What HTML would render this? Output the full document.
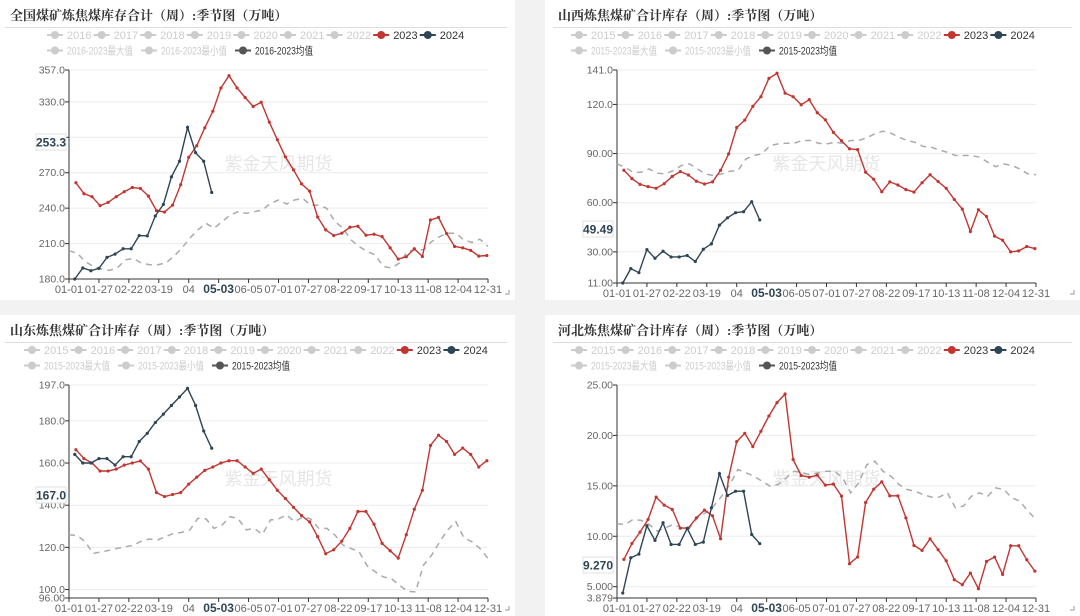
<!DOCTYPE html>
<html><head><meta charset="utf-8">
<style>
html,body{margin:0;padding:0;background:#f2f2f2;}
body{width:1080px;height:616px;position:relative;overflow:hidden;font-family:"Liberation Sans","Noto Sans CJK SC",sans-serif;}
svg{position:absolute;left:0;top:0;}
</style></head>
<body>
<svg id="chart" width="1080" height="616" viewBox="0 0 1080 616"></svg>
<script>
// ---------- data ----------
const xTickLabels=["01-01","01-27","02-22","03-19","04","05-03","06-05","07-01","07-27","08-22","09-17","10-13","11-08","12-04","12-31"];
const p1Title="全国煤矿炼焦煤库存合计（周）:季节图（万吨）";
const p2Title="山西炼焦煤矿合计库存（周）:季节图（万吨）";
const p3Title="山东炼焦煤矿合计库存（周）:季节图（万吨）";
const p4Title="河北炼焦煤矿合计库存（周）:季节图（万吨）";
const p1Years=["2016","2017","2018","2019","2020","2021","2022"];
const p2Years=["2015","2016","2017","2018","2019","2020","2021","2022"];
const p1Range="2016-2023";
const p2Range="2015-2023";
const p1Ticks=[357,330,300,270,240,210,180];
const p1TickLabels=["357.0","330.0","300.0","270.0","240.0","210.0","180.0"];
const p2Ticks=[141,120,90,60,30,11];
const p2TickLabels=["141.0","120.0","90.00","60.00","30.00","11.00"];
const p3Ticks=[197,180,160,140,120,100,96];
const p3TickLabels=["197.0","180.0","160.0","140.0","120.0","100.0","96.00"];
const p4Ticks=[25,20,15,10,5,3.879];
const p4TickLabels=["25.00","20.00","15.00","10.00","5.000","3.879"];
const p1Last="253.3", p2Last="49.49", p3Last="167.0", p4Last="9.270";

const p1S2023=[261.5,252.2,249.7,242.1,244.9,249.7,253.9,257.5,256.7,250.2,237.9,236.7,242.6,259.8,283.1,292.9,308.1,322.1,341.8,352.2,341.8,333.7,326.1,329.7,312.9,298.0,283.4,272.4,260.6,254.4,232.5,221.6,216.8,218.8,223.8,224.7,217.1,217.9,215.9,206.4,196.9,198.8,205.6,199.1,230.0,232.2,218.5,207.5,206.4,204.2,199.4,199.9];
const p1S2024=[180.0,189.3,187.0,189.0,198.3,201.1,205.6,205.6,216.8,216.5,233.4,243.2,266.5,279.7,308.4,287.0,279.7,253.3];
const p1Avg=[203.9,201.9,194.9,190.7,188.4,187.3,189.3,196.3,197.4,193.5,192.1,192.1,193.5,199.1,206.1,214.6,221.6,227.2,223.0,228.6,234.2,237.0,235.6,237.0,238.4,244.0,246.9,243.5,246.9,248.3,242.6,242.6,239.8,228.6,223.0,213.1,207.5,203.3,200.5,190.7,189.3,193.5,203.3,204.7,204.7,211.7,215.9,218.8,218.8,213.1,210.9,213.7,207.5];

const p2S2023=[79.8,74.7,71.2,69.8,68.8,71.6,76.1,79.0,76.9,73.1,71.4,72.7,79.8,89.8,105.9,110.4,118.8,124.7,135.9,139.0,126.9,124.7,119.8,122.9,114.9,110.6,102.9,97.8,92.9,92.4,78.6,74.3,66.7,72.7,70.8,68.0,66.5,72.2,77.1,72.9,68.8,62.0,56.1,42.4,55.7,51.6,39.6,37.1,30.0,30.6,33.3,32.0];
const p2S2024=[11.0,19.8,17.3,31.4,26.1,30.4,26.9,26.9,27.8,24.1,31.6,34.9,46.3,50.8,53.9,54.5,60.6,49.49];
const p2Avg=[83.7,81.6,78.6,78.6,80.6,78.0,77.6,79.6,82.7,83.7,80.6,77.6,76.5,77.6,79.2,79.6,86.7,88.8,89.8,94.9,95.9,96.3,96.3,98.0,98.0,96.3,95.9,96.9,96.3,98.0,98.0,99.6,102.0,103.7,102.4,100.0,98.0,96.9,94.3,93.9,92.2,90.8,88.8,88.8,88.8,87.8,84.7,82.0,83.7,82.7,80.6,77.6,77.1];

const p3S2023=[166.3,162.1,160.0,156.2,156.2,157.1,159.0,160.0,161.0,157.1,146.0,144.1,145.1,146.0,150.0,153.3,156.5,158.1,160.0,161.1,161.1,158.1,155.1,157.1,152.1,147.1,143.2,139.0,135.1,132.1,125.1,117.0,118.9,123.0,129.0,137.0,137.0,131.0,121.9,118.4,114.9,126.0,138.1,147.1,168.3,173.2,170.2,164.1,167.1,164.1,158.1,161.1];
const p3S2024=[164.1,160.0,160.0,162.1,162.1,159.0,163.0,163.0,170.2,174.1,179.2,183.2,187.3,191.3,195.4,187.3,175.2,167.0];
const p3Avg=[125.9,125.7,122.7,117.1,117.9,118.6,119.5,120.3,121.1,123.0,124.0,123.5,125.1,126.7,127.1,128.3,133.8,133.5,129.0,130.6,134.6,133.5,128.3,129.0,126.2,133.0,133.5,135.4,132.2,134.4,133.5,129.0,129.0,125.9,121.1,119.5,117.9,111.3,108.4,106.0,105.2,102.1,99.2,98.9,111.6,116.3,122.7,128.3,132.2,124.6,122.7,119.5,114.8];

const p4S2023=[7.71,9.29,10.41,11.67,13.88,13.09,12.66,10.81,10.81,11.83,12.59,12.03,9.75,15.86,19.39,20.21,18.89,20.41,21.93,23.25,24.11,17.61,16.02,15.86,16.06,15.07,15.17,13.98,7.28,7.94,13.35,14.67,15.40,14.01,14.01,11.83,9.09,8.60,9.75,8.66,7.57,5.69,5.20,6.35,4.80,7.51,7.94,6.22,9.06,9.06,7.67,6.55];
const p4S2024=[4.37,7.87,8.23,11.04,9.59,11.34,9.19,9.19,10.78,9.19,9.42,12.82,16.22,14.04,14.47,14.47,10.18,9.27];
const p4Avg=[11.24,11.17,11.67,11.57,11.17,10.51,10.84,11.17,10.84,10.84,11.83,12.33,12.99,13.98,15.13,16.62,16.29,15.96,15.46,14.97,15.13,15.79,16.45,16.29,16.12,16.29,16.45,16.45,15.79,14.31,15.30,17.11,17.44,16.45,15.96,15.13,14.64,14.47,14.14,13.88,13.88,14.31,12.82,12.99,13.98,14.31,13.98,14.80,14.64,13.81,13.48,12.49,11.67];

// ---------- drawing ----------
const NS="http://www.w3.org/2000/svg";
const root=document.getElementById('chart');
function mk(tag,attrs,parent){const e=document.createElementNS(NS,tag);for(const k in attrs)e.setAttribute(k,attrs[k]);(parent||root).appendChild(e);return e;}
const RED="#c23531",NAVY="#2f4554",GRAY="#aaaaaa";

function drawPanel(cfg){
  const g=mk('g',{transform:`translate(${cfg.ox},${cfg.oy})`});
  
  
  const bg=mk('rect',{x:0,y:0,width:cfg.w,height:cfg.h,fill:'#ffffff'},g);
  
  
  const t=mk('text',{x:cfg.titleX,y:20,'font-size':13,'font-weight':'bold',fill:'#333','font-family':'"Liberation Serif","Noto Serif CJK SC",serif'},g);
  t.textContent=cfg.title;
  
  
  mk('line',{x1:cfg.titleX-5,x2:cfg.w-8,y1:27.5,y2:27.5,stroke:'#ddd','stroke-width':1},g);
  // legend
  const items=cfg.years.map(y=>({label:y,col:'#ccc',txt:'#ccc'}));
  items.push({label:'2023',col:RED,txt:'#333'});
  items.push({label:'2024',col:NAVY,txt:'#333'});
  const row2=[{label:cfg.range+'最大值',col:'#ccc',txt:'#ccc',w:94,tl:66},{label:cfg.range+'最小值',col:'#ccc',txt:'#ccc',w:94,tl:66},{label:cfg.range+'均值',col:'#555',txt:'#333',w:90,tl:58}];
  let lx=cfg.legendX;
  items.forEach(it=>{
    const lg=mk('g',{},g);
    
    
    mk('line',{x1:lx-8,x2:lx+8,y1:35,y2:35,stroke:it.col,'stroke-width':2},lg);
    mk('circle',{cx:lx,cy:35,r:4,fill:it.col},lg);
    const tx=mk('text',{x:lx+12,y:39,'font-size':11,fill:it.txt},lg);tx.textContent=it.label;
    lx+=46.6;
  });
  lx=cfg.legendX;
  row2.forEach(it=>{
    const lg=mk('g',{},g);
    
    
    mk('line',{x1:lx-8,x2:lx+8,y1:50.5,y2:50.5,stroke:it.col,'stroke-width':2},lg);
    mk('circle',{cx:lx,cy:50.5,r:4,fill:it.col},lg);
    const tx=mk('text',{x:lx+12,y:54.5,'font-size':11,fill:it.txt,textLength:it.tl,lengthAdjust:'spacingAndGlyphs'},lg);tx.textContent=it.label;
    lx+=it.w;
  });
  // axes
  const L=cfg.left,R=cfg.right,T=70,B=cfg.bottom;
  const ys=v=>B-(v-cfg.min)/(cfg.max-cfg.min)*(B-T);
  const xs=d=>L+d/364*(R-L);
  const wm=mk('text',{x:(L+R)/2,y:170,'font-size':18,fill:'#e6e6e6','text-anchor':'middle'},g);
  wm.textContent='紫金天风期货';
  
  
  cfg.ticks.forEach((v,i)=>{
    const y=ys(v);
    if(i<cfg.ticks.length-1 && v!==cfg.min) mk('line',{x1:L,x2:R,y1:y,y2:y,stroke:'#ececec','stroke-width':1},g);
    mk('line',{x1:L-4,x2:L,y1:y,y2:y,stroke:'#333'},g);
    const tl=mk('text',{x:L-4,y:y+3.5,'font-size':10.5,fill:'#666','text-anchor':'end'},g);
    tl.textContent=cfg.tickLabels[i];
    
    
  });
  mk('line',{x1:L,x2:L,y1:T,y2:B,stroke:'#333','stroke-width':1},g);
  mk('line',{x1:L,x2:R,y1:B,y2:B,stroke:'#333','stroke-width':1},g);
  xTickLabels.forEach((lab,i)=>{
    const x=xs(i*26);
    mk('line',{x1:x,x2:x,y1:B,y2:B+4,stroke:'#333'},g);
    const bold=lab==='05-03';
    const tl=mk('text',{x:x,y:B+14,'font-size':bold?12:11,'font-weight':bold?'bold':'normal',fill:bold?NAVY:'#666','text-anchor':'middle'},g);
    tl.textContent=lab;
    
    
  });
  function series(vals,off,color,dashed,name,dots){
    const pts=vals.map((v,i)=>[xs(off+7*i),ys(v)]);
    const p=mk('polyline',{points:pts.map(p=>p[0].toFixed(1)+','+p[1].toFixed(1)).join(' '),fill:'none',stroke:color,'stroke-width':dashed?1.5:1.4,'stroke-dasharray':dashed?'6,5':'none'},g);
    
    
    if(dots)pts.forEach(q=>mk('circle',{cx:q[0],cy:q[1],r:1.6,fill:color},g));
  }
  series(cfg.avg,0,GRAY,true,'average-line',false);
  series(cfg.s23,6,RED,false,'line-2023',true);
  series(cfg.s24,5,NAVY,false,'line-2024',true);
  // last value label
  const lb=mk('g',{},g);
  
  
  mk('rect',{x:cfg.boxX,y:cfg.boxY-8,width:30,height:16,fill:'#fff',stroke:'#e0e0e0'},lb);
  const bt=mk('text',{x:cfg.boxX+15,y:cfg.boxY+4.5,'font-size':12,'font-weight':'bold',fill:NAVY,'text-anchor':'middle'},lb);
  bt.textContent=cfg.last;
  mk('path',{d:`M${cfg.w-10} ${cfg.h-6} h4 v-4`,stroke:'#999',fill:'none'},g);
}
drawPanel({name:'panel-national',ox:0,oy:0,w:515,h:300,title:p1Title,titleX:10,legendX:55,years:p1Years,range:p1Range,left:69,right:488,bottom:279,min:180,max:357,ticks:p1Ticks,tickLabels:p1TickLabels,s23:p1S2023,s24:p1S2024,avg:p1Avg,last:p1Last,boxX:36,boxY:142});
drawPanel({name:'panel-shanxi',ox:545,oy:0,w:535,h:300,title:p2Title,titleX:13,legendX:34,years:p2Years,range:p2Range,left:72,right:491,bottom:283,min:11,max:141,ticks:p2Ticks,tickLabels:p2TickLabels,s23:p2S2023,s24:p2S2024,avg:p2Avg,last:p2Last,boxX:38,boxY:229});
drawPanel({name:'panel-shandong',ox:0,oy:315,w:515,h:301,title:p3Title,titleX:10,legendX:32,years:p2Years,range:p2Range,left:69,right:488,bottom:283,min:96,max:197,ticks:p3Ticks,tickLabels:p3TickLabels,s23:p3S2023,s24:p3S2024,avg:p3Avg,last:p3Last,boxX:36,boxY:180});
drawPanel({name:'panel-hebei',ox:545,oy:315,w:535,h:301,title:p4Title,titleX:13,legendX:34,years:p2Years,range:p2Range,left:72,right:491,bottom:283,min:3.879,max:25,ticks:p4Ticks,tickLabels:p4TickLabels,s23:p4S2023,s24:p4S2024,avg:p4Avg,last:p4Last,boxX:38,boxY:250});
</script>
</body></html>
